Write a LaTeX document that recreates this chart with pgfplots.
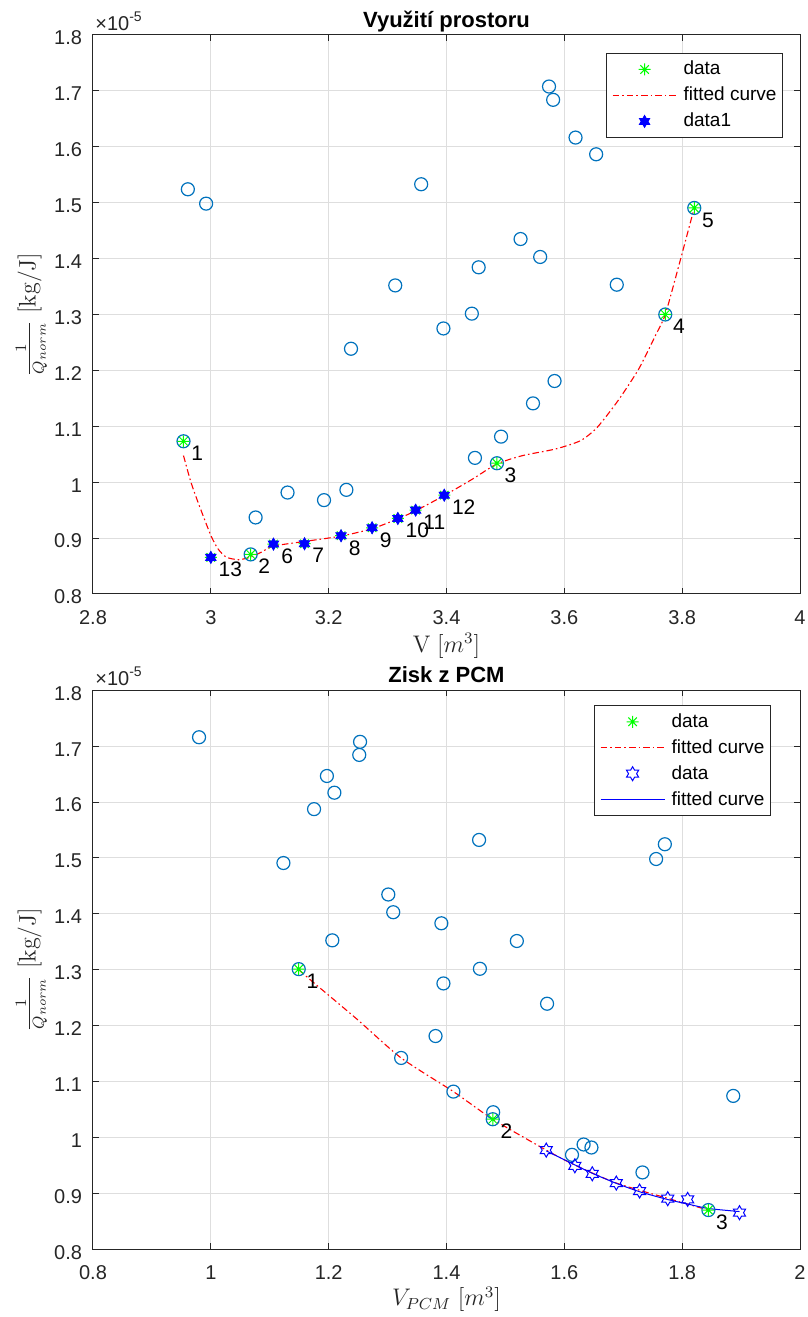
\documentclass[border=0pt]{standalone}
\usepackage{fontspec}
\usepackage{pgfplots}
\pgfplotsset{compat=1.18}
\newfontfamily\arial{Liberation Sans}
\definecolor{mblue}{RGB}{0,114,189}
\definecolor{axgray}{gray}{0.15}
\definecolor{gridgray}{gray}{0.87}
\definecolor{mgreen}{RGB}{0,255,0}

\pgfdeclareplotmark{star8}{%
  \pgfpathmoveto{\pgfqpoint{0pt}{\pgfplotmarksize}}\pgfpathlineto{\pgfqpoint{0pt}{-\pgfplotmarksize}}%
  \pgfpathmoveto{\pgfqpoint{\pgfplotmarksize}{0pt}}\pgfpathlineto{\pgfqpoint{-\pgfplotmarksize}{0pt}}%
  \pgfpathmoveto{\pgfpointpolar{45}{\pgfplotmarksize}}\pgfpathlineto{\pgfpointpolar{225}{\pgfplotmarksize}}%
  \pgfpathmoveto{\pgfpointpolar{135}{\pgfplotmarksize}}\pgfpathlineto{\pgfpointpolar{315}{\pgfplotmarksize}}%
  \pgfusepathqstroke}
\newcommand\hexpath{%
  \pgfpathmoveto{\pgfpointpolar{90}{\pgfplotmarksize}}%
  \pgfpathlineto{\pgfpointpolar{120}{0.57735\pgfplotmarksize}}%
  \pgfpathlineto{\pgfpointpolar{150}{\pgfplotmarksize}}%
  \pgfpathlineto{\pgfpointpolar{180}{0.57735\pgfplotmarksize}}%
  \pgfpathlineto{\pgfpointpolar{210}{\pgfplotmarksize}}%
  \pgfpathlineto{\pgfpointpolar{240}{0.57735\pgfplotmarksize}}%
  \pgfpathlineto{\pgfpointpolar{270}{\pgfplotmarksize}}%
  \pgfpathlineto{\pgfpointpolar{300}{0.57735\pgfplotmarksize}}%
  \pgfpathlineto{\pgfpointpolar{330}{\pgfplotmarksize}}%
  \pgfpathlineto{\pgfpointpolar{0}{0.57735\pgfplotmarksize}}%
  \pgfpathlineto{\pgfpointpolar{30}{\pgfplotmarksize}}%
  \pgfpathlineto{\pgfpointpolar{60}{0.57735\pgfplotmarksize}}%
  \pgfpathclose}
\pgfdeclareplotmark{hexfill}{\hexpath\pgfusepathqfillstroke}
\pgfdeclareplotmark{hexopen}{\hexpath\pgfusepathqstroke}
% legend samples drawn as marks so that their colour comes from the mark machinery
\pgfdeclareplotmark{dashdotline}{%
  \pgfsetdash{{3.3pt}{1.5pt}{0.8pt}{1.5pt}}{0pt}%
  \pgfpathmoveto{\pgfqpoint{-16pt}{0pt}}\pgfpathlineto{\pgfqpoint{16pt}{0pt}}\pgfusepathqstroke}
\pgfdeclareplotmark{solidline}{%
  \pgfsetdash{}{0pt}%
  \pgfpathmoveto{\pgfqpoint{-16pt}{0pt}}\pgfpathlineto{\pgfqpoint{16pt}{0pt}}\pgfusepathqstroke}

\pgfplotsset{
  mystyle/.style={
    scale only axis, width=353.5pt, height=279.5pt,
    axis line style={axgray, line width=0.5pt},
    every tick/.style={axgray, line width=0.5pt},
    major tick length=3pt,
    tick align=inside,
    grid=major, major grid style={gridgray, line width=0.5pt},
    ymin=0.8, ymax=1.8,
    ytick={0.8,0.9,1,1.1,1.2,1.3,1.4,1.5,1.6,1.7,1.8},
    tick label style={font=\arial\fontsize{10}{12}\selectfont, text=axgray},
    /pgf/number format/assume math mode=true,
    /pgf/number format/fixed, /pgf/number format/precision=1,
    yticklabel style={xshift=-2pt, yshift=-1.5pt},
    xticklabel style={yshift=-4.7pt},
    every axis title/.style={at={(0.5,1)}, anchor=base, yshift=3.8pt, inner sep=0pt,
      font=\arial\bfseries\fontsize{11}{13}\selectfont, text=black},
    every axis x label/.style={at={(0.5,0)}, anchor=base, yshift=-29.3pt, inner sep=0pt,
      font=\fontsize{12}{14}\selectfont, text=axgray},
    every axis y label/.style={at={(0,0.5)}, anchor=center, xshift=-30.75pt, rotate=90, inner sep=0pt,
      font=\fontsize{12}{14}\selectfont, text=axgray},
    ylabel={$\frac{1}{Q_{norm}}\;[\mathrm{kg/J}]$},
    legend cell align=left,
    legend style={font=\arial\fontsize{9.5}{11}\selectfont, draw=axgray, line width=0.5pt,
      inner xsep=3pt, inner ysep=1.5pt, row sep=0pt, anchor=north east, at={(1,1)},
      nodes={inner ysep=2.3pt, inner xsep=0pt},
      /tikz/every odd column/.append style={column sep=3.5pt}},
    legend image code/.code={\draw[mark repeat=2,mark phase=2,#1] plot coordinates {(0pt,0pt) (16pt,0pt) (32pt,0pt)};},
    circ/.style={only marks, mark=o, mark size=3.25pt, mblue, line width=0.6pt, forget plot},
    gdata/.style={only marks, mark=star8, mark size=3pt, mgreen, draw=mgreen, line width=0.5pt},
    rfit/.style={red, draw=red, no marks, line width=0.55pt, dash pattern=on 3.3pt off 1.5pt on 0.8pt off 1.5pt, smooth, tension=0.4,
      legend image code/.code={\draw[mark repeat=2,mark phase=2,only marks,mark=dashdotline,mark options={draw=red,solid,line width=0.6pt}] plot coordinates {(0pt,0pt) (16pt,0pt) (32pt,0pt)};}},
    bfit/.style={blue, draw=blue, no marks, line width=0.5pt, smooth, tension=0.4,
      legend image code/.code={\draw[mark repeat=2,mark phase=2,only marks,mark=solidline,mark options={draw=blue,line width=0.6pt}] plot coordinates {(0pt,0pt) (16pt,0pt) (32pt,0pt)};}},
    lbls/.style={draw=none, no marks, forget plot, nodes near coords, point meta=explicit symbolic,
      nodes near coords style={anchor=north west, inner sep=0pt, xshift=3.7pt, yshift=-2.2pt,
      font=\arial\fontsize{10.5}{12}\selectfont, text=black}},
    after end axis/.code={\node[anchor=south west, inner sep=0pt, xshift=1pt, yshift=2pt, text=axgray,
      font=\arial\fontsize{10}{12}\selectfont] at (rel axis cs:0,1) {×10\raisebox{0.85ex}{\fontsize{7}{8}\selectfont -5}};},
  }
}

\begin{document}
\begin{tikzpicture}
\useasboundingbox (0,0) rectangle (404pt,658.5pt);
% ---------------- top axis ----------------
\begin{axis}[mystyle, at={(46.5pt,361.5pt)}, anchor=south west,
  xmin=2.8, xmax=4, xtick={2.8,3,3.2,3.4,3.6,3.8,4},
  title={Využití prostoru},
  xlabel={$\mathrm{V}\;[m^3]$},
  legend style={xshift=-8.5pt, yshift=-9pt}]
\addplot[circ] coordinates {
(3.574,1.7078) (3.581,1.684) (3.619,1.6165) (3.654,1.5866) (2.961,1.524) (2.992,1.4983)
(3.357,1.533) (3.8205,1.4906) (3.5257,1.435) (3.559,1.4029) (3.4546,1.3844) (3.313,1.352)
(3.689,1.3533) (3.443,1.3015) (3.7713,1.300) (3.3948,1.275) (3.2379,1.2387) (3.5834,1.181)
(3.5468,1.141) (2.9536,1.0732) (3.4926,1.0815) (3.4483,1.0435) (3.4856,1.0339) (3.1302,0.9815)
(3.2301,0.9863) (3.1921,0.9679) (3.076,0.9369) (3.0676,0.8708)};
\addplot[gdata] coordinates {
(2.9536,1.0732) (3.0676,0.8708) (3.4856,1.0339) (3.7713,1.300) (3.8205,1.4906)
(3.1063,0.8893) (3.159,0.8899) (3.221,0.9042) (3.2737,0.9185) (3.3174,0.9351) (3.3476,0.95) (3.3962,0.9768) (3.0,0.8655)};
\addlegendentry{data}
\addplot[rfit] coordinates {
(2.9536,1.0476) (2.9662,1.0) (2.9803,0.9583) (3.0,0.9048) (3.012,0.881) (3.026,0.866)
(3.047,0.8613) (3.0676,0.866) (3.0859,0.875) (3.1063,0.8857) (3.159,0.894) (3.221,0.9036)
(3.2737,0.9167) (3.3174,0.9345) (3.3476,0.9488) (3.3962,0.9762) (3.4448,1.006) (3.4856,1.0327)
(3.5292,1.0476) (3.5855,1.0595) (3.6277,1.0744) (3.6559,1.0982) (3.6911,1.1458) (3.7262,1.2024)
(3.7544,1.2619) (3.7713,1.30) (3.795,1.39) (3.8205,1.4906)};
\addlegendentry{fitted curve}
\addplot[only marks, mark=hexfill, mark size=3pt, blue, draw=blue, fill=blue, line width=0.4pt] coordinates {
(3.1063,0.8893) (3.159,0.8899) (3.221,0.9042) (3.2737,0.9185) (3.3174,0.9351) (3.3476,0.95) (3.3962,0.9768) (3.0,0.8655)};
\addlegendentry{data1}
\addplot[lbls] table[meta=l] {
x y l
2.9536 1.0732 1
3.0676 0.8708 2
3.4856 1.0339 3
3.7713 1.300 4
3.8205 1.4906 5
3.1063 0.8893 6
3.159 0.8899 7
3.221 0.9042 8
3.2737 0.9185 9
3.3174 0.9351 10
3.3476 0.95 11
3.3962 0.9768 12
3.0 0.8655 13
};
\end{axis}
% ---------------- bottom axis ----------------
\begin{axis}[mystyle, at={(46.5pt,33.85pt)}, anchor=south west,
  xmin=0.8, xmax=2, xtick={0.8,1,1.2,1.4,1.6,1.8,2},
  title={Zisk z PCM},
  xlabel={$V_{PCM}\;[m^3]$},
  x label style={yshift=1pt},
  legend style={xshift=-14.5pt, yshift=-7.5pt}]
\addplot[circ] coordinates {
(0.980,1.716) (1.2533,1.7078) (1.2519,1.6844) (1.197,1.6467) (1.2097,1.6168) (1.1752,1.5874)
(1.4553,1.5323) (1.7706,1.5246) (1.7558,1.4982) (1.1232,1.491) (1.3012,1.4347) (1.3096,1.403)
(1.3913,1.3832) (1.2062,1.3527) (1.5194,1.3515) (1.4567,1.3018) (1.1492,1.3012) (1.3948,1.2756)
(1.5707,1.2393) (1.3814,1.1815) (1.323,1.1423) (1.4117,1.0821) (1.8867,1.0744) (1.4792,1.0452)
(1.4785,1.0327) (1.6327,0.9875) (1.646,0.9821) (1.613,0.969) (1.7326,0.9375) (1.8445,0.8702)};
\addplot[gdata] coordinates {(1.1492,1.3012) (1.4785,1.0327) (1.8445,0.8702)};
\addlegendentry{data}
\addplot[rfit] coordinates {
(1.1492,1.300) (1.1773,1.2745) (1.2477,1.212) (1.323,1.1423) (1.4117,1.0821) (1.4785,1.0327)
(1.5693,0.9774) (1.6179,0.9506) (1.6882,0.9185) (1.7755,0.8911) (1.8445,0.8702)};
\addlegendentry{fitted curve}
\addplot[only marks, mark=hexopen, mark size=3.5pt, blue, draw=blue, line width=0.5pt] coordinates {
(1.5693,0.9774) (1.6179,0.9494) (1.6474,0.9351) (1.6882,0.9185) (1.7277,0.9042) (1.7755,0.8905) (1.8093,0.8893) (1.8973,0.8655)};
\addlegendentry{data}
\addplot[bfit] coordinates {
(1.5693,0.976) (1.6179,0.951) (1.6474,0.936) (1.6882,0.918) (1.7277,0.903) (1.7755,0.889) (1.8093,0.881) (1.8445,0.873) (1.8973,0.8675)};
\addlegendentry{fitted curve}
\addplot[lbls] table[meta=l] {
x y l
1.1492 1.3012 1
1.4785 1.0327 2
1.8445 0.8702 3
};
\end{axis}
\end{tikzpicture}
\end{document}
